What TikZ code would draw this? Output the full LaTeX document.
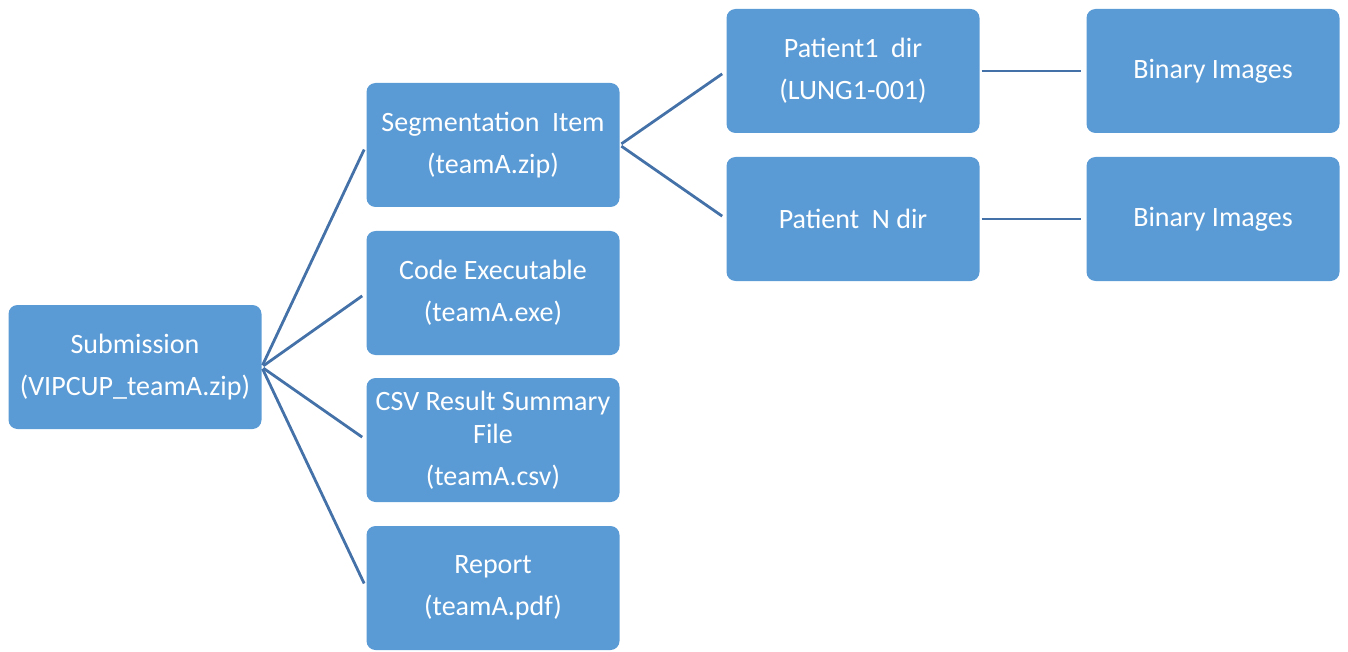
\documentclass[tikz,border=0pt]{standalone}
\usepackage{fontspec}
\setmainfont{Carlito}
\definecolor{boxblue}{HTML}{5B9BD5}
\definecolor{lineblue}{HTML}{4472A8}
\begin{document}
\begin{tikzpicture}[x=1pt,y=-1pt,
  box/.style={fill=boxblue, rounded corners=9pt, minimum width=253pt, minimum height=124pt,
    inner sep=0pt, text=white, align=center, font=\fontsize{28}{33}\selectfont},
  link/.style={draw=lineblue, line width=2.8pt, shorten <=2pt, shorten >=5pt}]
\useasboundingbox (0,0) rectangle (1348,652);
\node[box] (sub) at (135,367) {Submission\\[9pt](VIPCUP\_teamA.zip)};
\node[box] (seg) at (493,145) {Segmentation~ Item\\[9pt](teamA.zip)};
\node[box] (code) at (493,293) {Code Executable\\[9pt](teamA.exe)};
\node[box] (csv) at (493,440) {CSV Result Summary\\File\\[9pt](teamA.csv)};
\node[box] (rep) at (493,588) {Report\\[9pt](teamA.pdf)};
\node[box] (p1) at (853,71) {Patient1~ dir\\[9pt](LUNG1-001)};
\node[box] (pn) at (853,219) {Patient~ N dir};
\node[box] (b1) at (1213,71) {Binary Images};
\node[box] (bn) at (1213,219) {Binary Images};
\foreach \t in {seg,code,csv,rep} \draw[link] (sub.east) -- (\t.west);
\foreach \t in {p1,pn} \draw[link] (seg.east) -- (\t.west);
\draw[link] (p1.east) -- (b1.west);
\draw[link] (pn.east) -- (bn.west);
\end{tikzpicture}
\end{document}
